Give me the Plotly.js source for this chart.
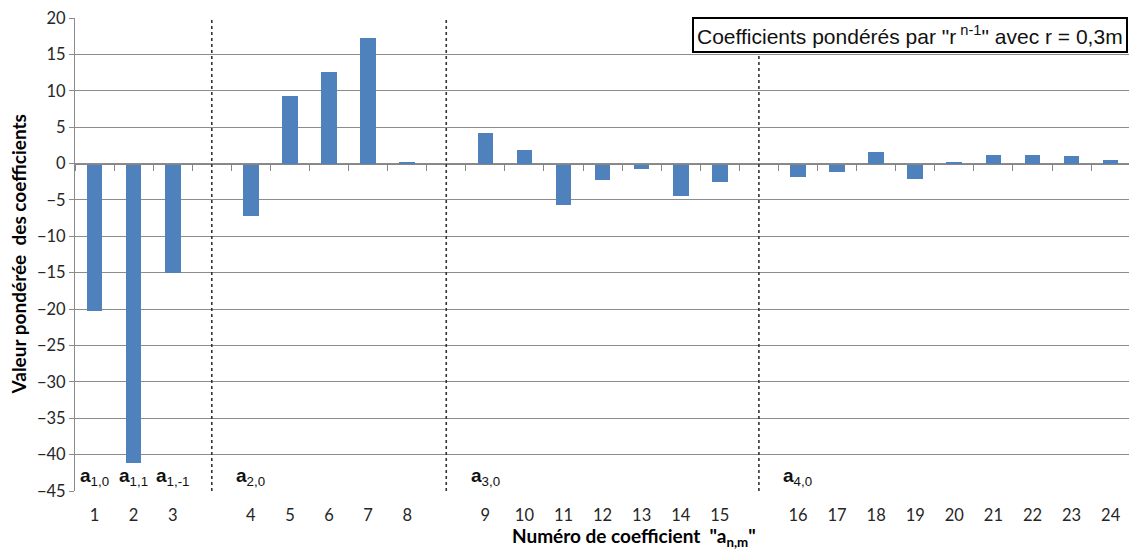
<!DOCTYPE html>
<html>
<head>
<meta charset="utf-8">
<script src="https://cdn.plot.ly/plotly-3.0.1.min.js"></script>
<style>html,body{margin:0;padding:0;background:#fff;}#chart{width:1129px;height:552px;}</style>
</head>
<body>
<div id="chart"></div>
<script>
// ---- data ----
// coefficient numbers, grouped by order n (an empty slot separates groups)
const group1 = [1, 2, 3];
const group2 = [4, 5, 6, 7, 8];
const group3 = [9, 10, 11, 12, 13, 14, 15];
const group4 = [16, 17, 18, 19, 20, 21, 22, 23, 24];
// weighted values of the coefficients
const values1 = [-20.3, -41.2, -15.0];
const values2 = [-7.2, 9.35, 12.6, 17.3, 0.2];
const values3 = [4.25, 1.8, -5.7, -2.2, -0.7, -4.45, -2.5];
const values4 = [-1.9, -1.2, 1.65, -2.1, 0.15, 1.2, 1.2, 1.1, 0.45];
// group labels
const labelCoefs = [1, 2, 3, 4, 9, 16];
const labelTexts = ['<b>a</b><sub>1,0</sub>', '<b>a</b><sub>1,1</sub>', '<b>a</b><sub>1,-1</sub>',
                    '<b>a</b><sub>2,0</sub>', '<b>a</b><sub>3,0</sub>', '<b>a</b><sub>4,0</sub>'];
const chartTitle = 'Coefficients pondérés par "r<sup> n-1</sup>" avec r = 0,3m';
const xTitle = '<b>Numéro de coefficient  "a<sub>n,m</sub>"</b>';
const yTitle = '<b>Valeur pondérée  des coefficients</b>';

// ---- build slot positions (each group is followed by one empty slot) ----
const groups = [group1, group2, group3, group4];
const groupValues = [values1, values2, values3, values4];
const slotX = [], slotVal = [], slotLabel = [], coefToSlot = {}, dividers = [];
let slot = 1;
groups.forEach((g, gi) => {
  g.forEach((c, i) => {
    slotX.push(slot); slotVal.push(groupValues[gi][i]); slotLabel.push(String(c));
    coefToSlot[c] = slot; slot++;
  });
  if (gi < groups.length - 1) { dividers.push(slot); slot++; }
});
const nSlots = slot - 1;
const xRange = [0.5, nSlots + 0.47];
const boundaries = [];
for (let b = 0.5; b <= nSlots + 0.5; b += 1) boundaries.push(b);

const sans = 'Lato, "Open Sans", Arial, sans-serif';
const tickFont = {family: sans, size: 16.5, color: '#262626'};
const titleFont = {family: sans, size: 19, color: '#000'};

const traces = [
  {type: 'bar', x: slotX, y: slotVal, width: 0.4, marker: {color: '#4F81BD'},
   hoverinfo: 'y', showlegend: false},
  {type: 'scatter', x: [xRange[0]], y: [0], xaxis: 'x2', mode: 'markers',
   marker: {opacity: 0}, hoverinfo: 'skip', showlegend: false}
];

const shapes = dividers.map(d => ({type: 'line', xref: 'x', yref: 'paper', x0: d, x1: d, y0: 0, y1: 1,
  line: {color: '#333', width: 1.6, dash: 'dot'}}));

const annotations = labelCoefs.map((c, i) => ({
  x: coefToSlot[c], y: -43.1, xref: 'x', yref: 'y', text: labelTexts[i], showarrow: false,
  xanchor: 'center', yanchor: 'middle', font: {family: 'Arial, "Liberation Sans", sans-serif', size: 19, color: '#111'}
}));
annotations.push({
  x: 1, y: 1, xref: 'paper', yref: 'paper', xanchor: 'right', yanchor: 'top', yshift: 1, xshift: -1,
  text: chartTitle, showarrow: false, bgcolor: '#fff', bordercolor: '#000', borderwidth: 2, borderpad: 3,
  font: {family: 'Arial, "Liberation Sans", sans-serif', size: 21, color: '#111'}
});
annotations.push({
  x: 0.53, y: 0, xref: 'paper', yref: 'paper', xanchor: 'center', yanchor: 'middle', yshift: -46,
  text: xTitle, showarrow: false, font: titleFont
});
annotations.push({
  x: 0, y: 0.5, xref: 'paper', yref: 'paper', xanchor: 'center', yanchor: 'middle', xshift: -57,
  textangle: -90, text: yTitle, showarrow: false, font: titleFont
});

const layout = {
  width: 1129, height: 552,
  margin: {l: 75, r: 0, t: 18, b: 61},
  paper_bgcolor: '#fff', plot_bgcolor: '#fff',
  bargap: 0,
  xaxis: {range: xRange, tickvals: slotX, ticktext: slotLabel, ticks: 'outside', ticklen: 9,
          tickcolor: 'rgba(0,0,0,0)', showgrid: false, zeroline: false, showline: false,
          tickfont: tickFont, fixedrange: true},
  xaxis2: {overlaying: 'x', anchor: 'free', position: 45 / 65, range: xRange, tickvals: boundaries,
           ticks: 'outside', ticklen: 6, tickcolor: '#868686', showticklabels: false, showgrid: false,
           zeroline: false, showline: true, linecolor: '#868686', linewidth: 1},
  yaxis: {range: [-45, 20], dtick: 5, tick0: 0, gridcolor: '#8c8c8c', gridwidth: 1, zeroline: false,
          showline: true, linecolor: '#8c8c8c', ticks: 'outside', ticklen: 5, tickcolor: '#8c8c8c',
          tickfont: tickFont, fixedrange: true},
  shapes: shapes,
  annotations: annotations
};

Plotly.newPlot('chart', traces, layout, {displayModeBar: false, staticPlot: true});
</script>
</body>
</html>
